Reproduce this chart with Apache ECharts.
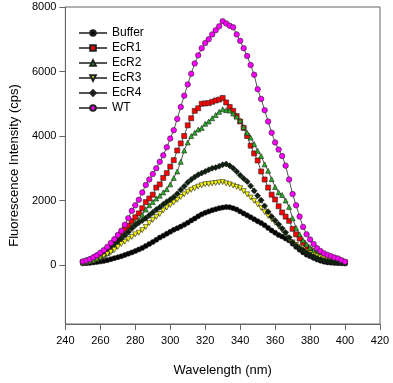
<!DOCTYPE html>
<html><head><meta charset="utf-8">
<script src="https://cdn.jsdelivr.net/npm/echarts@6/dist/echarts.min.js"></script>
<style>html,body{margin:0;padding:0;background:#fff}#c{width:393px;height:383px}</style>
</head><body><div id="c"></div>
<script>
// wavelengths 250..400 step 2
const wavelengths = [250,252,254,256,258,260,262,264,266,268,270,272,274,276,278,280,282,284,286,288,290,292,294,296,298,300,302,304,306,308,310,312,314,316,318,320,322,324,326,328,330,332,334,336,338,340,342,344,346,348,350,352,354,356,358,360,362,364,366,368,370,372,374,376,378,380,382,384,386,388,390,392,394,396,398,400];
const buffer = [50,55,65,75,90,105,125,150,180,210,240,270,310,350,390,430,480,530,590,650,710,780,850,910,970,1030,1090,1140,1190,1250,1310,1380,1440,1510,1570,1620,1660,1700,1730,1760,1780,1800,1790,1760,1720,1660,1600,1540,1480,1420,1360,1300,1230,1150,1070,1000,930,880,820,760,660,560,470,390,320,270,220,170,130,100,80,70,60,55,50,45];
const ecr1 = [90,110,140,170,210,260,340,420,540,650,800,960,1120,1220,1360,1480,1600,1760,1950,2060,2180,2400,2500,2700,2850,3050,3250,3550,3770,4000,4330,4550,4780,4860,5000,5010,5020,5060,5100,5130,5180,5040,4900,4780,4620,4450,4250,4000,3700,3460,3240,2900,2650,2400,2180,2030,1820,1630,1500,1370,1120,950,820,680,560,470,400,330,270,230,190,160,140,120,100,80];
const ecr2 = [80,100,120,150,190,240,300,370,460,580,720,880,980,1080,1200,1320,1400,1560,1720,1850,1950,2060,2150,2250,2350,2500,2700,2900,3200,3550,3800,4000,4100,4200,4250,4380,4450,4550,4650,4750,4830,4800,4790,4700,4600,4480,4280,4100,3950,3750,3540,3380,3120,2920,2660,2420,2250,2170,2000,1800,1450,1150,950,770,640,530,440,360,300,250,200,170,140,120,100,80];
const ecr3 = [60,80,110,150,200,250,290,340,400,470,560,650,720,800,870,950,1000,1080,1180,1300,1400,1490,1580,1690,1780,1860,1940,2020,2110,2190,2270,2330,2380,2430,2470,2500,2510,2530,2540,2560,2570,2530,2500,2460,2420,2380,2290,2190,2090,1990,1880,1770,1640,1520,1420,1310,1200,1080,950,800,700,620,550,480,410,360,310,260,230,200,170,140,120,100,80,60];
const ecr4 = [100,140,180,230,290,350,420,510,590,660,740,820,920,1020,1130,1230,1310,1380,1450,1540,1630,1720,1790,1880,1960,2030,2110,2210,2330,2440,2560,2650,2730,2800,2850,2900,2950,3000,3020,3060,3110,3130,3080,3000,2900,2780,2680,2590,2450,2300,2150,2010,1830,1650,1500,1380,1260,1130,1010,850,700,600,520,460,380,320,260,210,170,140,120,100,90,80,70,60];
const wt = [110,140,180,240,300,380,460,560,680,800,930,1060,1250,1450,1680,1850,2020,2250,2480,2650,2820,3000,3200,3400,3650,3920,4180,4530,4900,5250,5600,5930,6250,6500,6720,6880,7000,7150,7280,7400,7560,7490,7420,7370,7150,6950,6720,6480,6200,5900,5450,5150,4800,4450,4100,3800,3580,3380,3080,2650,2200,1850,1500,1180,950,790,650,520,430,360,310,270,230,200,150,100];
const yTicks = [0,2000,4000,6000,8000];
const xTicks = [240,260,280,300,320,340,360,380,400,420];

const seriesDefs = [
  {name:'Buffer', data:buffer, symbol:'circle', color:'#000000', size:5, rot:0},
  {name:'EcR1', data:ecr1, symbol:'rect', color:'#ff0000', size:5, rot:0},
  {name:'EcR2', data:ecr2, symbol:'triangle', color:'#22b022', size:5, rot:0},
  {name:'EcR3', data:ecr3, symbol:'triangle', color:'#ffff00', size:5, rot:180},
  {name:'EcR4', data:ecr4, symbol:'diamond', color:'#0d200d', size:6, rot:0},
  {name:'WT', data:wt, symbol:'circle', color:'#ff00ff', size:5.5, rot:0}
];

const chart = echarts.init(document.getElementById('c'), null, {renderer:'canvas'});
const font = 'Arial, "Liberation Sans", sans-serif';
chart.setOption({
  animation:false,
  backgroundColor:'#fff',
  grid:{left:64, right:13, top:7, bottom:59, show:true, borderColor:'#666', borderWidth:1},
  legend:{
    orient:'vertical', left:73, top:22, itemWidth:28, itemHeight:7, itemGap:3,
    textStyle:{fontFamily:font, fontSize:12, color:'#000'},
    data: seriesDefs.map(s=>s.name)
  },
  xAxis:{
    type:'value', min:240, max:420, interval:20,
    name:'Wavelength (nm)', nameLocation:'middle', nameGap:40,
    nameTextStyle:{fontFamily:font, fontSize:13, color:'#000'},
    axisLine:{show:true, onZero:false, lineStyle:{color:'#666'}},
    axisTick:{show:true, length:6, lineStyle:{color:'#666'}},
    axisLabel:{fontFamily:font, fontSize:11, color:'#000', margin:11, customValues:xTicks},
    splitLine:{show:false}
  },
  yAxis:{
    type:'value', min:-1830, max:8000,
    name:'Fluorescence Intensity (cps)', nameLocation:'middle', nameGap:44,
    nameTextStyle:{fontFamily:font, fontSize:13, color:'#000'},
    axisLine:{show:true, lineStyle:{color:'#666'}},
    axisTick:{show:true, length:6, lineStyle:{color:'#666'}, customValues:yTicks},
    axisLabel:{fontFamily:font, fontSize:11, color:'#000', margin:9, customValues:yTicks, formatter:v=>String(v)},
    splitLine:{show:false}
  },
  series: seriesDefs.map(s=>({
    name:s.name, type:'line',
    data: wavelengths.map((w,i)=>[w, s.data[i]]),
    symbol:s.symbol, symbolSize:s.size, symbolRotate:s.rot, showAllSymbol:true,
    lineStyle:{color:'#555', width:1},
    itemStyle:{color:s.color, borderColor:'#222', borderWidth:0.6},
    emphasis:{disabled:true}
  }))
});
</script></body></html>
